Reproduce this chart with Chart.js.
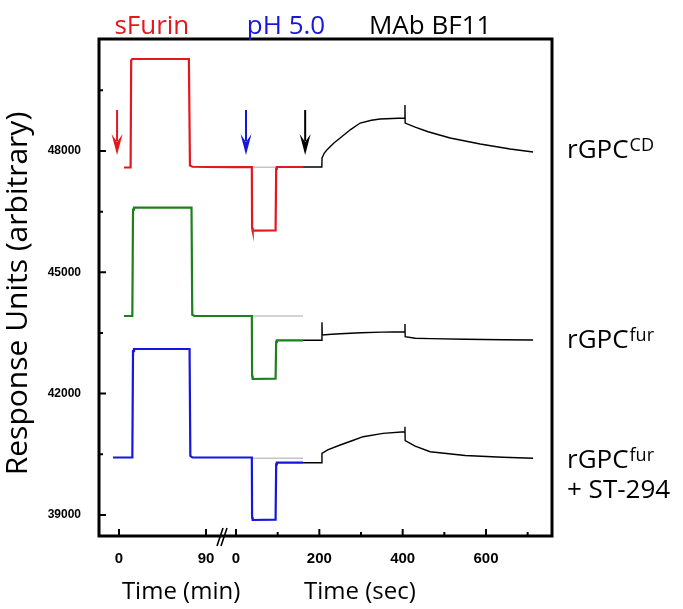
<!DOCTYPE html>
<html>
<head>
<meta charset="utf-8">
<script src="https://cdn.jsdelivr.net/npm/chart.js@4.4.0/dist/chart.umd.min.js"></script>
<style>
  html, body { margin: 0; padding: 0; background: #fff; }
</style>
</head>
<body>
<canvas id="myChart" width="683" height="609"></canvas>
<script>
// the x axis is broken: minutes on the left, seconds on the right.
// both share one linear axis, counted in seconds of the right part
const MIN_FACTOR = 2.32;
const SEC_START = 280.8;

const minTicks = [0, 90];
const secTicks = [0, 200, 400, 600];
const secMinorTicks = [100, 300, 500, 700];
const yTicks = [39000, 42000, 45000, 48000];
const yMinorTicks = [40500, 43500, 46500, 49500];

// [time, response units]
const cdMin = [[5.2, 47592], [12.0, 47592], [12.6, 50240], [13.6, 50275], [72.3, 50275], [73.4, 47640], [76, 47610], [90, 47604]];
const cdSec = [[0, 47600], [38, 47600], [38.6, 46100], [40, 46029], [95, 46035], [96.4, 47560], [98, 47604], [161, 47604]];
const cdMab = [[161, 47604], [206, 47604], [206.5, 47827], [212, 47950], [218, 48025], [235, 48200], [250, 48321],
  [275, 48530], [298, 48692], [325, 48760], [346, 48790], [375, 48805], [405, 48816], [405.5, 49138], [406, 48692],
  [430, 48590], [461, 48477], [514, 48321], [586, 48173], [658, 48049], [713, 47975]];
const cdRef = [[38, 47600], [161, 47600]];

const furMin = [[5.2, 43920], [13.8, 43920], [14.5, 46550], [15.5, 46598], [75, 46598], [75.8, 43950], [78, 43920], [90, 43920]];
const furSec = [[0, 43920], [38, 43920], [38.6, 42450], [40, 42362], [95, 42370], [96.4, 43280], [98, 43319], [161, 43319]];
const furMab = [[161, 43319], [206, 43319], [206.3, 43763], [207, 43450], [230, 43470], [250, 43480], [300, 43505],
  [350, 43520], [405, 43531], [405.5, 43722], [406, 43407], [430, 43370], [466, 43360], [550, 43345], [640, 43333], [713, 43326]];
const furRef = [[38, 43920], [161, 43920]];

const stMin = [[-6.2, 40420], [13.8, 40420], [14.5, 43050], [15.5, 43103], [73, 43103], [73.8, 40460], [76, 40420], [90, 40420]];
const stSec = [[0, 40420], [38, 40420], [38.6, 38950], [40, 38875], [95, 38885], [96.4, 40250], [98, 40292], [161, 40292]];
const stMab = [[161, 40292], [206, 40292], [206.3, 40524], [220, 40610], [250, 40730], [280, 40840], [305, 40935],
  [353, 41017], [405, 41058], [405.5, 41182], [406, 40836], [430, 40700], [466, 40564], [550, 40470], [640, 40425], [713, 40400]];
const stRef = [[38, 40400], [161, 40400]];

const RED = "#e3171d";
const GREEN = "#1d7f1d";
const BLUE = "#1616dc";

// injection arrows: time, unit, colour
const arrows = [[-2, "min", RED], [24, "sec", BLUE], [166, "sec", "#000"]];
const arrowTop = 49014;
const arrowTip = 47901;

const topLabels = [["sFurin", 34, "min", RED], ["pH 5.0", 120, "sec", BLUE], ["MAb BF11", 466, "sec", "#000"]];
const sideLabels = [["rGPC", "CD", "", 47827], ["rGPC", "fur", "", 43128], ["rGPC", "fur", "+ ST-294", 40160]];

function fromMin(t) { return t * MIN_FACTOR; }
function fromSec(t) { return SEC_START + t; }
function at(t, unit) { return unit == "min" ? fromMin(t) : fromSec(t); }

function toPoints(minPart, secPart) {
  let pts = minPart.map((p) => ({ x: fromMin(p[0]), y: p[1] }));
  return pts.concat(secPart.map((p) => ({ x: fromSec(p[0]), y: p[1] })));
}

function trace(data, color, width, order) {
  return {
    data: data,
    borderColor: color,
    borderWidth: width,
    pointRadius: 0,
    fill: false,
    tension: 0,
    order: order,
  };
}

const xTickValues = minTicks.map(fromMin).concat(secTicks.map(fromSec));
const xTickLabels = minTicks.concat(secTicks).map(String);

const decorations = {
  id: "decorations",
  afterDraw(chart) {
    const ctx = chart.ctx;
    const a = chart.chartArea;
    const x = chart.scales.x;
    const y = chart.scales.y;
    ctx.save();
    ctx.strokeStyle = "#000";
    ctx.lineCap = "butt";

    // inward ticks
    ctx.lineWidth = 2;
    ctx.beginPath();
    yTicks.forEach((v) => { const py = y.getPixelForValue(v); ctx.moveTo(a.left, py); ctx.lineTo(a.left + 8, py); });
    yMinorTicks.forEach((v) => { const py = y.getPixelForValue(v); ctx.moveTo(a.left, py); ctx.lineTo(a.left + 5, py); });
    xTickValues.forEach((v) => { const px = x.getPixelForValue(v); ctx.moveTo(px, a.bottom); ctx.lineTo(px, a.bottom - 7); });
    secMinorTicks.forEach((v) => { const px = x.getPixelForValue(fromSec(v)); ctx.moveTo(px, a.bottom); ctx.lineTo(px, a.bottom - 4); });
    ctx.stroke();

    // frame
    ctx.lineWidth = 3;
    ctx.strokeRect(a.left + 1, a.top, a.right - a.left - 1, a.bottom - a.top);

    // axis break
    const bx = x.getPixelForValue((fromMin(90) + fromSec(0)) / 2) + 1;
    ctx.lineWidth = 1.6;
    ctx.beginPath();
    ctx.moveTo(bx - 5, a.bottom + 10); ctx.lineTo(bx + 1, a.bottom - 8);
    ctx.moveTo(bx - 1, a.bottom + 10); ctx.lineTo(bx + 5, a.bottom - 8);
    ctx.stroke();

    // arrows
    arrows.forEach((ar) => {
      const px = x.getPixelForValue(at(ar[0], ar[1]));
      const top = y.getPixelForValue(arrowTop);
      const tip = y.getPixelForValue(arrowTip);
      ctx.strokeStyle = ar[2];
      ctx.fillStyle = ar[2];
      ctx.lineWidth = 2;
      ctx.beginPath();
      ctx.moveTo(px, top);
      ctx.lineTo(px, tip - 14);
      ctx.stroke();
      ctx.beginPath();
      ctx.moveTo(px - 5.5, tip - 21);
      ctx.lineTo(px, tip - 13);
      ctx.lineTo(px + 5.5, tip - 21);
      ctx.lineTo(px, tip);
      ctx.closePath();
      ctx.fill();
    });

    // labels above the plot
    ctx.textAlign = "center";
    ctx.textBaseline = "alphabetic";
    ctx.font = "26px 'Open Sans'";
    topLabels.forEach((l) => {
      ctx.fillStyle = l[3];
      ctx.fillText(l[0], x.getPixelForValue(at(l[1], l[2])), a.top - 5);
    });

    // trace names on the right
    ctx.fillStyle = "#000";
    ctx.textAlign = "left";
    sideLabels.forEach((l) => {
      const py = y.getPixelForValue(l[3]);
      const px = a.right + 15;
      ctx.font = "26px 'Open Sans'";
      ctx.fillText(l[0], px, py);
      const w = ctx.measureText(l[0]).width;
      ctx.font = "18px 'Open Sans'";
      ctx.fillText(l[1], px + w + 1, py - 7);
      if (l[2]) {
        ctx.font = "26px 'Open Sans'";
        ctx.fillText(l[2], px, py + 30);
      }
    });

    // axis titles
    ctx.font = "24px 'Open Sans'";
    ctx.textAlign = "center";
    ctx.textBaseline = "middle";
    ctx.fillText("Time (min)", x.getPixelForValue(149), a.bottom + 56);
    ctx.fillText("Time (sec)", x.getPixelForValue(578), a.bottom + 56);

    ctx.translate(18, (a.top + a.bottom) / 2 + 6);
    ctx.rotate(-Math.PI / 2);
    ctx.font = "30px 'Open Sans'";
    ctx.fillText("Response Units (arbitrary)", 0, 0);
    ctx.restore();
  },
};

const ctx = document.getElementById("myChart").getContext("2d");
const myChart = new Chart(ctx, {
  type: "line",
  data: {
    datasets: [
      trace(cdMab.map((p) => ({ x: fromSec(p[0]), y: p[1] })), "#000", 1.4, 0),
      trace(furMab.map((p) => ({ x: fromSec(p[0]), y: p[1] })), "#000", 1.4, 0),
      trace(stMab.map((p) => ({ x: fromSec(p[0]), y: p[1] })), "#000", 1.4, 0),
      trace(toPoints(cdMin, cdSec), RED, 2.2, 1),
      trace(toPoints(furMin, furSec), GREEN, 2.2, 1),
      trace(toPoints(stMin, stSec), BLUE, 2.2, 1),
      trace(cdRef.map((p) => ({ x: fromSec(p[0]), y: p[1] })), "#c4c4c4", 1.6, 5),
      trace(furRef.map((p) => ({ x: fromSec(p[0]), y: p[1] })), "#c4c4c4", 1.6, 5),
      trace(stRef.map((p) => ({ x: fromSec(p[0]), y: p[1] })), "#c4c4c4", 1.6, 5),
    ],
  },
  options: {
    responsive: false,
    animation: false,
    layout: { padding: { top: 39, right: 131, left: 0, bottom: 0 } },
    plugins: { legend: { display: false }, tooltip: { enabled: false } },
    scales: {
      x: {
        type: "linear",
        min: -50.4,
        max: 1039.2,
        grid: { display: false, drawTicks: false },
        border: { display: false },
        afterBuildTicks: (scale) => { scale.ticks = xTickValues.map((v) => ({ value: v })); },
        afterFit: (scale) => { scale.height = 73; },
        ticks: {
          autoSkip: false,
          maxRotation: 0,
          padding: 14,
          color: "#000",
          font: { family: "'Liberation Sans', Arial", size: 15, weight: "bold" },
          callback: (value, index) => xTickLabels[index],
        },
      },
      y: {
        min: 38479,
        max: 50770,
        grid: { display: false, drawTicks: false },
        border: { display: false },
        afterBuildTicks: (scale) => { scale.ticks = yTicks.map((v) => ({ value: v })); },
        afterFit: (scale) => { scale.width = 98; },
        ticks: {
          padding: 17,
          color: "#000",
          font: { family: "'Liberation Sans', Arial", size: 12, weight: "bold" },
          callback: (value) => String(value),
        },
      },
    },
  },
  plugins: [decorations],
});
</script>
</body>
</html>
